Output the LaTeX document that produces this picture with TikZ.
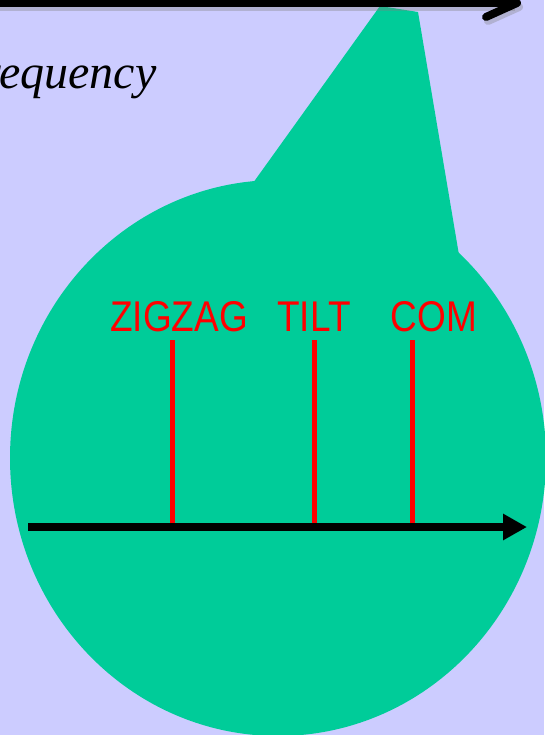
\documentclass[tikz,border=0pt]{standalone}
\usepackage{fontspec}
\setmainfont{Liberation Serif}
\newfontfamily\tagfont[FakeStretch=0.86]{Liberation Sans}
\usetikzlibrary{arrows.meta}
\definecolor{lavender}{RGB}{204,204,255}
\definecolor{callgreen}{RGB}{0,204,153}
\tikzset{
  tick/.style={red,line width=5pt},
  tag/.style={red,anchor=base,font=\tagfont\fontsize{43}{43}\selectfont},
  barb/.style={line width=8pt,-{Straight Barb[length=31pt,width=28pt,round]}},
}
\begin{document}
\begin{tikzpicture}[x=1pt,y=-1pt]
\fill[lavender] (0,0) rectangle (544,735);
\useasboundingbox (0,0) rectangle (544,735);
% Callout
\fill[callgreen] (278,458) ellipse [x radius=268pt, y radius=278pt];
\fill[callgreen] (253,183) -- (380,6) -- (418,12) -- (459,255) -- cycle;
% Axis on top, with its shadow
\draw[barb,black!50,opacity=.35] (-10,7) -- (523,7);
\draw[barb] (-10,3) -- (521,3);
\node[anchor=base east,font=\fontsize{48}{48}\selectfont\itshape] (freq) at (160,89) {Frequency};
% Axis in the callout
\coordinate (axL) at (28,527);
\coordinate (axR) at (527,527);
\draw[line width=8pt,-{Triangle[length=24pt,width=25pt]}] (axL) -- (axR);
% Modes
\foreach \nm/\x/\lx/\txt in {zz/172/179/ZIGZAG, tl/314/314/TILT, cm/412/434/COM} {
  \node[tag] (\nm) at (\lx,331) {\txt};
  \draw[tick] (\x,523) -- (\x,340);
}
\end{tikzpicture}
\end{document}
